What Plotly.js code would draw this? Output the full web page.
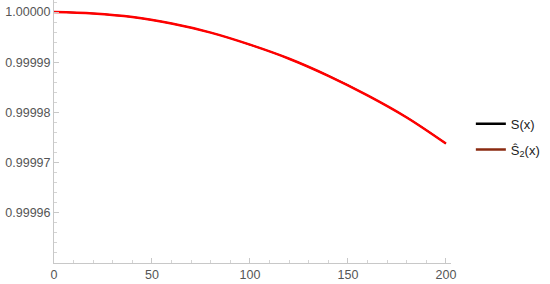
<!DOCTYPE html>
<html>
<head>
<meta charset="utf-8">
<script src="https://cdn.plot.ly/plotly-3.0.1.min.js"></script>
<style>
  html, body { margin: 0; padding: 0; background: #fff; }
  #plot { width: 550px; height: 284px; }
</style>
</head>
<body>
<div id="plot"></div>
<script>
// Values
var xValues = [0, 20, 40, 60, 80, 100, 120, 140, 160, 180, 200];
var sValues = [1.0, 0.9999997, 0.9999990, 0.9999977, 0.9999959, 0.9999935,
               0.9999907, 0.9999873, 0.9999834, 0.9999790, 0.9999738];
var s2Values = [1.0, 0.9999997, 0.9999990, 0.9999977, 0.9999959, 0.9999935,
                0.9999907, 0.9999873, 0.9999834, 0.9999790, 0.9999738];
var seriesNames = ["S(x)", "Ŝ<sub>2</sub>(x)"];
var xTicks = [0, 50, 100, 150, 200];
var yTicks = [0.99996, 0.99997, 0.99998, 0.99999, 1.0];
var yTickText = ["0.99996", "0.99997", "0.99998", "0.99999", "1.00000"];

// S(x) sits under the red curve, thinner so no dark edge shows
var traceS = {
    x: xValues,
    y: sValues,
    name: seriesNames[0],
    mode: "lines",
    line: { color: "#000000", width: 1.5, shape: "spline" },
    showlegend: false
};
var traceS2 = {
    x: xValues,
    y: s2Values,
    name: seriesNames[1],
    mode: "lines",
    line: { color: "#ff0000", width: 2.5, shape: "spline" },
    showlegend: false
};
// legend swatches
var traceSKey = {
    x: [null],
    y: [null],
    name: seriesNames[0],
    mode: "lines",
    line: { color: "#000000", width: 2.5 },
    legendgroup: "a"
};
var traceS2Key = {
    x: [null],
    y: [null],
    name: seriesNames[1],
    mode: "lines",
    line: { color: "#8a2a10", width: 2.5 },
    legendgroup: "b"
};

var layout = {
    width: 550,
    height: 284,
    margin: { l: 54, r: 99, t: 0, b: 21 },
    paper_bgcolor: "#ffffff",
    plot_bgcolor: "#ffffff",
    font: { family: "Liberation Sans, Arial, sans-serif", size: 12.5, color: "#555555" },
    xaxis: {
        range: [0, 202.6],
        tickvals: xTicks,
        ticks: "inside",
        ticklen: 5,
        tickcolor: "#c8c8c8",
        showline: true,
        linecolor: "#c8c8c8",
        linewidth: 1,
        showgrid: false,
        zeroline: false,
        minor: { dtick: 10, ticks: "inside", ticklen: 3, tickcolor: "#d4d4d4" }
    },
    yaxis: {
        range: [0.99995, 1.0000024],
        tickvals: yTicks,
        ticktext: yTickText,
        ticks: "inside",
        ticklen: 5,
        tickcolor: "#c8c8c8",
        showline: true,
        linecolor: "#c8c8c8",
        linewidth: 1,
        showgrid: false,
        zeroline: false,
        minor: { dtick: 0.000002, tick0: 0.99996, ticks: "inside", ticklen: 3, tickcolor: "#d4d4d4" }
    },
    showlegend: true,
    legend: {
        x: 1.05,
        xanchor: "left",
        y: 0.48,
        yanchor: "middle",
        font: { size: 13, color: "#222222" },
        tracegroupgap: 6,
        bgcolor: "rgba(0,0,0,0)"
    }
};

Plotly.newPlot("plot", [traceS, traceS2, traceSKey, traceS2Key], layout, { staticPlot: true });
</script>
</body>
</html>
